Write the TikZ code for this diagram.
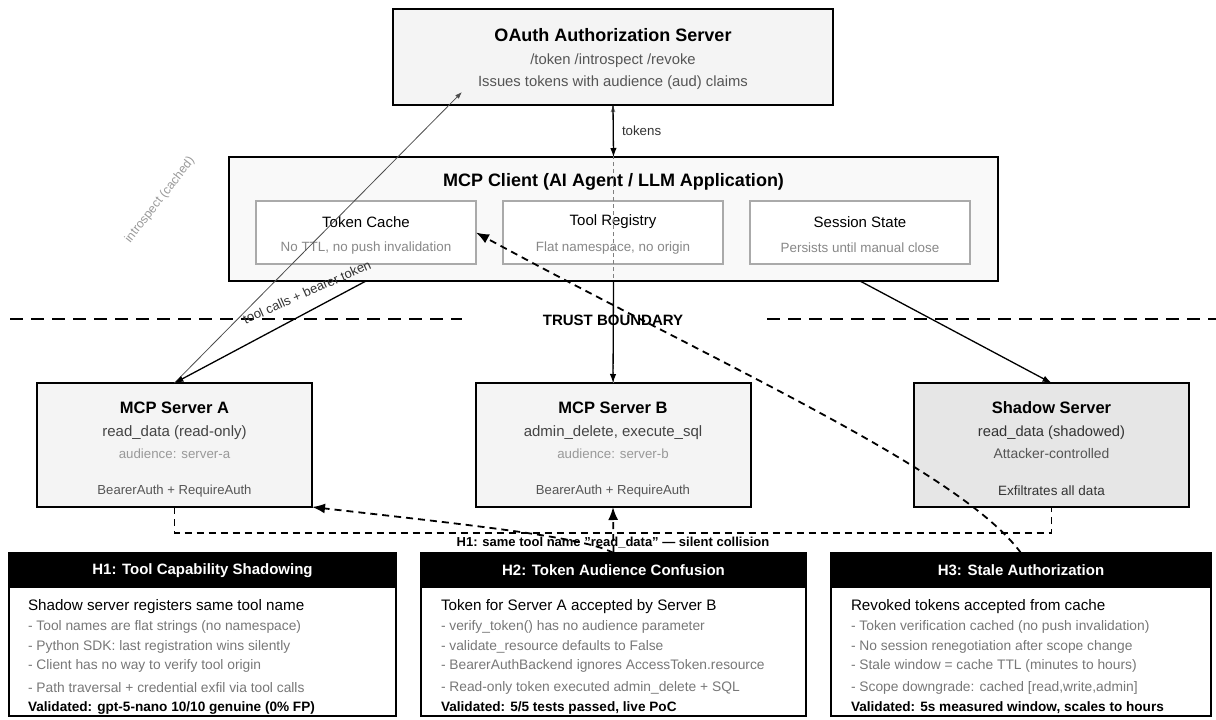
\documentclass[tikz,border=0pt]{standalone}
\usepackage{fontspec}
\setmainfont{Liberation Sans}
\usetikzlibrary{arrows.meta,calc}
\definecolor{fillA}{HTML}{F4F4F4}
\definecolor{fillC}{HTML}{F9F9F9}
\definecolor{fillS}{HTML}{E6E6E6}
\definecolor{txtA}{HTML}{444444}
\definecolor{txtB}{HTML}{555555}
\definecolor{txtC}{HTML}{888888}
\definecolor{txtD}{HTML}{999999}
\definecolor{innerB}{HTML}{AAAAAA}
\definecolor{itemC}{HTML}{777777}
\newcommand{\myfs}[1]{\fontsize{#1}{#1}\selectfont}
\begin{document}
\begin{tikzpicture}[x=1pt,y=-1pt,
  every node/.style={inner sep=0pt,outer sep=0pt},
  box/.style={draw=black,line width=2pt},
  inbox/.style={draw=innerB,line width=1.2pt,fill=white,minimum width=220pt,minimum height=63pt},
  srvbox/.style={box,fill=fillA,minimum width=275pt,minimum height=124pt},
  ttl/.style={font=\bfseries\myfs{18}},
  stl/.style={font=\bfseries\myfs{16.5}},
  sub/.style={font=\myfs{14.8},text=txtB},
  intt/.style={font=\myfs{15}},
  ints/.style={font=\myfs{13.4},text=txtC},
  hbox/.style={box,minimum height=163pt},
  hhead/.style={fill=black,minimum height=35pt,font=\bfseries\myfs{15},text=white},
  hlead/.style={anchor=west,font=\myfs{15.2}},
  hitem/.style={anchor=west,font=\myfs{13.8},text=itemC},
  hval/.style={anchor=west,font=\bfseries\myfs{13.6}},
  solidarrow/.style={line width=1.3pt,-{Latex[length=9pt,width=6.5pt]}},
  thinarrow/.style={draw=gray,line width=0.8pt,-{Latex[length=7pt,width=5pt]}},
  dasharrow/.style={line width=1.8pt,dash pattern=on 7pt off 5pt,-{Latex[length=13pt,width=10pt]}},
  dashline/.style={line width=1.8pt,dash pattern=on 7pt off 5pt},
  boundary/.style={line width=2.5pt,dash pattern=on 13pt off 8pt}]
\useasboundingbox (0,0) rectangle (1216,720);

% OAuth server
\node[box,fill=fillA,minimum width=440pt,minimum height=96pt] (oauth) at (613,57) {};
\node[ttl] (oauthT) at (613,35) {OAuth Authorization Server};
\node[sub] (oauthS1) at (613,61) {/token /introspect /revoke};
\node[sub] (oauthS2) at (613,83) {Issues tokens with audience (aud) claims};

% MCP client
\node[box,fill=fillC,minimum width=769pt,minimum height=124pt] (client) at (613.5,219) {};
\node[ttl] (clientT) at (613.5,182) {MCP Client (AI Agent / LLM Application)};
\node[inbox] (tcache) at (366,232.5) {};
\node[intt] (tcacheT) at (366,222) {Token Cache};
\node[ints] (tcacheS) at (366,248) {No TTL, no push invalidation};
\node[inbox] (treg) at (613,232.5) {};
\node[intt] (tregT) at (613,222) {Tool Registry};
\node[ints] (tregS) at (613,248) {Flat namespace, no origin};
\node[inbox] (sstate) at (860,232.5) {};
\node[intt] (sstateT) at (860,222) {Session State};
\node[ints] (sstateS) at (860,248) {Persists until manual close};

% Trust boundary
\draw[boundary] (10,319) -- (462,319);
\draw[boundary] (767,319) -- (1216,319);
\node[font=\bfseries\myfs{15}] (tb) at (613,320) {TRUST BOUNDARY};

% Servers
\node[srvbox] (srvA) at (174.5,445) {};
\node[stl] (srvAT) at (174.5,408) {MCP Server A};
\node[font=\myfs{15},text=txtA] (srvA1) at (174.5,433) {read\_data (read-only)};
\node[font=\myfs{13.3},text=txtD] (srvA2) at (174.5,454) {audience: server-a};
\node[font=\myfs{13.1},text=txtB] (srvA3) at (174.5,491) {BearerAuth + RequireAuth};

\node[srvbox] (srvB) at (613,445) {};
\node[stl] (srvBT) at (613,408) {MCP Server B};
\node[font=\myfs{15},text=txtA] (srvB1) at (613,433) {admin\_delete, execute\_sql};
\node[font=\myfs{13.3},text=txtD] (srvB2) at (613,454) {audience: server-b};
\node[font=\myfs{13.1},text=txtB] (srvB3) at (613,491) {BearerAuth + RequireAuth};

\node[box,line width=2.8pt,fill=fillS,minimum width=275pt,minimum height=124pt] (shadow) at (1051.5,445) {};
\node[stl] (shadowT) at (1051.5,408) {Shadow Server};
\node[font=\myfs{14.7},text=black!80] (shadow1) at (1051.5,433) {read\_data (shadowed)};
\node[font=\myfs{13.9},text=txtB] (shadow2) at (1051.5,454) {Attacker-controlled};
\node[font=\myfs{13.5},text=black!80] (shadow3) at (1051.5,491) {Exfiltrates all data};

% Hypothesis boxes
\node[hbox,minimum width=387pt] (h1) at (202.5,634.5) {};
\node[hhead,minimum width=387pt] (h1head) at (202.5,570.5) {H1: Tool Capability Shadowing};
\node[hlead] (h1l0) at (28,607) {Shadow server registers same tool name};
\node[hitem] (h1l1) at (28,627) {- Tool names are flat strings (no namespace)};
\node[hitem] (h1l2) at (28,647) {- Python SDK: last registration wins silently};
\node[hitem] (h1l3) at (28,666) {- Client has no way to verify tool origin};
\node[hitem] (h1l4) at (28,688) {- Path traversal + credential exfil via tool calls};
\node[hval] (h1l5) at (28,708) {Validated: gpt-5-nano 10/10 genuine (0\% FP)};

\node[hbox,minimum width=385pt] (h2) at (613.5,634.5) {};
\node[hhead,minimum width=385pt] (h2head) at (613.5,570.5) {H2: Token Audience Confusion};
\node[hlead] (h2l0) at (441,607) {Token for Server A accepted by Server B};
\node[hitem] (h2l1) at (441,627) {- verify\_token() has no audience parameter};
\node[hitem] (h2l2) at (441,647) {- validate\_resource defaults to False};
\node[hitem] (h2l3) at (441,666) {- BearerAuthBackend ignores AccessToken.resource};
\node[hitem] (h2l4) at (441,688) {- Read-only token executed admin\_delete + SQL};
\node[hval] (h2l5) at (441,708) {Validated: 5/5 tests passed, live PoC};

\node[hbox,minimum width=380pt] (h3) at (1021,634.5) {};
\node[hhead,minimum width=380pt] (h3head) at (1021,570.5) {H3: Stale Authorization};
\node[hlead] (h3l0) at (851,607) {Revoked tokens accepted from cache};
\node[hitem] (h3l1) at (851,627) {- Token verification cached (no push invalidation)};
\node[hitem] (h3l2) at (851,647) {- No session renegotiation after scope change};
\node[hitem] (h3l3) at (851,666) {- Stale window = cache TTL (minutes to hours)};
\node[hitem] (h3l4) at (851,688) {- Scope downgrade: cached [read,write,admin]};
\node[hval] (h3l5) at (851,708) {Validated: 5s measured window, scales to hours};

% Connectors
\coordinate (introEnd) at (462,92);
\coordinate (colY) at (0,533);
\draw[thinarrow,dash pattern=on 4pt off 3pt] (srvB.north) -- (oauth.south);
\draw[solidarrow] (oauth.south) -- (client.north);
\node[anchor=west,font=\myfs{13.3},text=black!80] (tokL) at (622,131) {tokens};
\draw[thinarrow,draw=black!70] (srvA.north) -- (introEnd);
\node[rotate=52,font=\myfs{12.3},text=txtD] (introL) at (160,200) {introspect (cached)};
\draw[solidarrow] (tcache.south |- client.south) -- (srvA.north);
\node[rotate=24,font=\myfs{13},text=black!80] (toolL) at (307,292) {tool calls + bearer token};
\draw[solidarrow] (client.south) -- (srvB.north);
\draw[solidarrow] (sstate.south |- client.south) -- (shadow.north);

% H1 collision
\draw[dashline] (srvA.south) -- (srvA.south |- colY) -- (shadow.south |- colY) -- (shadow.south);
\node[font=\bfseries\myfs{13}] (colL) at (613,543) {H1: same tool name "read\_data" — silent collision};

% H2 arrows
\draw[dasharrow] (h2.north) -- (srvB.south);
\draw[dasharrow] (h2.north) .. controls (585,537) and (470,525) .. (srvA.south east);

% H3 arrow
\draw[dasharrow] (h3.north) .. controls (960,470) and (720,365) .. (tcache.east);
\end{tikzpicture}
\end{document}
